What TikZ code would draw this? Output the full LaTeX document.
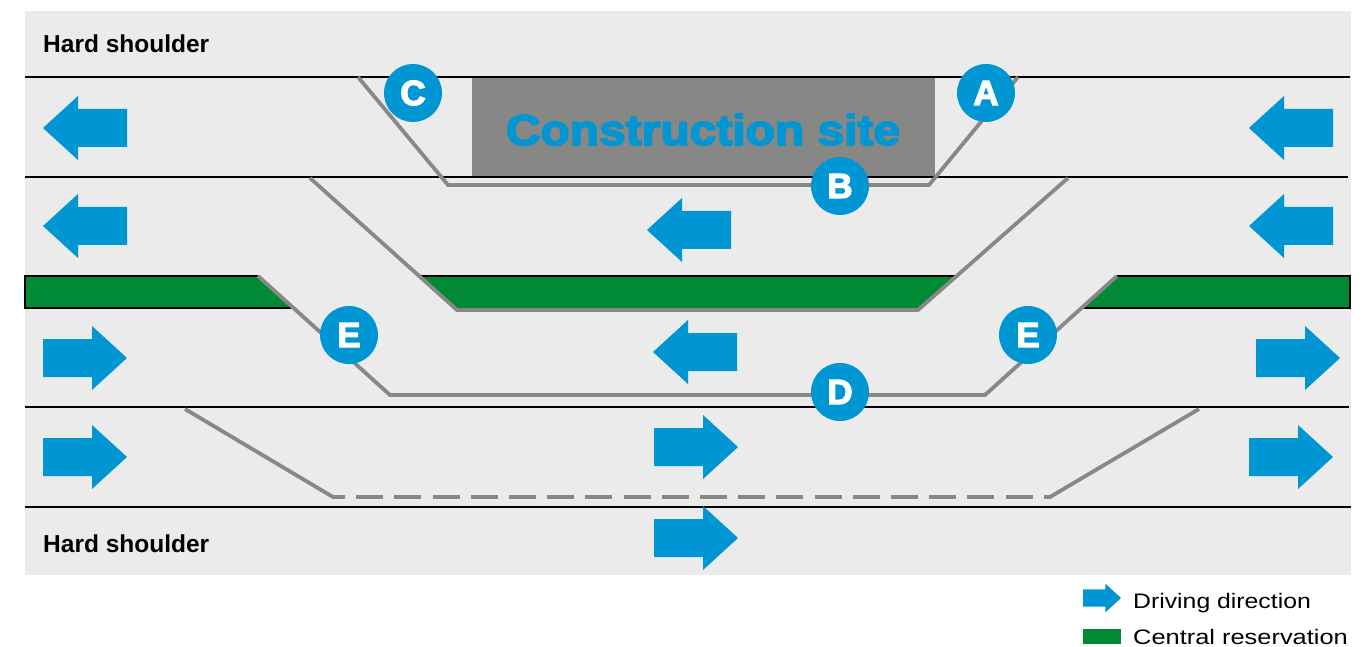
\documentclass[tikz,border=0pt]{standalone}
\usepackage{fontspec}
\setmainfont{Liberation Sans}
\newfontfamily\heavyfont{Liberation Sans}[BoldFeatures={FakeBold=3.5}]
\usepackage{graphicx}
\definecolor{bg}{HTML}{EBEBEB}
\definecolor{roadblue}{HTML}{0095D3}
\definecolor{resgreen}{HTML}{008A36}
\definecolor{pathgray}{HTML}{888888}
\definecolor{sitegray}{HTML}{878786}
\begin{document}
\begin{tikzpicture}[x=1pt,y=-1pt,
  laneline/.style={black, line width=2.2pt},
  route/.style={pathgray, line width=3.8pt, line join=miter},
  marker/.style={circle, fill=roadblue, minimum size=58pt, inner sep=0pt, text=white,
    font=\heavyfont\bfseries\fontsize{35}{35}\selectfont},
  hslabel/.style={anchor=base west, inner sep=0pt, font=\bfseries\fontsize{24.5}{24.5}\selectfont},
  legendtext/.style={anchor=base west, inner sep=0pt, font=\fontsize{21}{21}\selectfont},
  larr/.pic={\fill[roadblue] (0,0)--(35,-32)--(35,-19)--(84,-19)--(84,19)--(35,19)--(35,32)--cycle;},
  rarr/.pic={\fill[roadblue] (0,0)--(-35,-32)--(-35,-19)--(-84,-19)--(-84,19)--(-35,19)--(-35,32)--cycle;},
]
\useasboundingbox (0,0) rectangle (1366,647);
% road background
\fill[bg] (25,11) rectangle (1351,575);
% construction site
\fill[sitegray] (472,78) rectangle (935,176);
% lane lines
\draw[laneline] (25,77) -- (1350,77);
\draw[laneline] (25,177) -- (1348,177);
\draw[laneline] (25,407) -- (1349,407);
\draw[laneline] (25,507) -- (1351,507);
% central reservation
\fill[resgreen] (25,276) -- (258,276) -- (293.5,308) -- (25,308) -- cycle;
\draw[black, line width=1.6pt] (258,276) -- (25,276) -- (25,308) -- (293.5,308);
\fill[resgreen] (419,276) -- (957,276) -- (918,310) -- (457,310) -- cycle;
\draw[black, line width=1.6pt] (419,276) -- (957,276);
\fill[resgreen] (1117,276) -- (1350,276) -- (1350,308) -- (1081.5,308) -- cycle;
\draw[black, line width=1.6pt] (1117,276) -- (1350,276) -- (1350,308) -- (1081.5,308);
% traffic routes
\coordinate (c1) at (358,77); \coordinate (c2) at (448,185);
\coordinate (c3) at (929,185); \coordinate (c4) at (1018,77);
\draw[route] (c1) -- (c2) -- (c3) -- (c4);
\coordinate (m1) at (310,178); \coordinate (m2) at (457,310);
\coordinate (m3) at (918,310); \coordinate (m4) at (1068,178);
\draw[route] (m1) -- (m2) -- (m3) -- (m4);
\coordinate (e1) at (258,276); \coordinate (e2) at (390,395);
\coordinate (e3) at (985,395); \coordinate (e4) at (1117,276);
\draw[route] (e1) -- (e2) -- (e3) -- (e4);
\coordinate (s1) at (185,409); \coordinate (s2) at (333,497);
\coordinate (s2b) at (345,497); \coordinate (s3a) at (356.2,497);
\coordinate (s3b) at (1033,497); \coordinate (s3) at (1044.2,497);
\coordinate (s4) at (1050,497); \coordinate (s5) at (1199,409);
\draw[route] (s1) -- (s2) -- (s2b);
\draw[route, line join=miter] (s3) -- (s4) -- (s5);
\draw[route, dash pattern=on 27pt off 11.2pt] (s3a) -- (s3b);
% driving direction arrows
\pic at (43,128) {larr};
\pic at (43,226) {larr};
\pic at (1249,128) {larr};
\pic at (1249,226) {larr};
\pic at (647,230) {larr};
\pic at (653,352) {larr};
\pic at (127,358) {rarr};
\pic at (127,457) {rarr};
\pic at (1340,358) {rarr};
\pic at (1333,457) {rarr};
\pic at (738,447) {rarr};
\pic at (738,538) {rarr};
% texts
\node[hslabel] (hs1) at (43,53) {Hard shoulder};
\node[hslabel] (hs2) at (43,552) {Hard shoulder};
\node[anchor=base, inner sep=0pt, text=roadblue, font=\heavyfont\bfseries\fontsize{43}{43}\selectfont] (site) at (703,145) {\scalebox{1.115}[1]{Construction site}};
% markers
\node[marker] (mC) at (413,93) {C};
\node[marker] (mA) at (986,93) {A};
\node[marker] (mB) at (840,186) {B};
\node[marker] (mE1) at (349,335) {E};
\node[marker] (mE2) at (1028,335) {E};
\node[marker] (mD) at (840,392) {D};
% legend
\pic[scale=0.45] at (1121,598) {rarr};
\fill[resgreen] (1083,629) rectangle (1121,644);
\node[legendtext] (l1) at (1133,608) {\scalebox{1.18}[1]{Driving direction}};
\node[legendtext] (l2) at (1133,644) {\scalebox{1.21}[1]{Central reservation}};
\end{tikzpicture}
\end{document}
